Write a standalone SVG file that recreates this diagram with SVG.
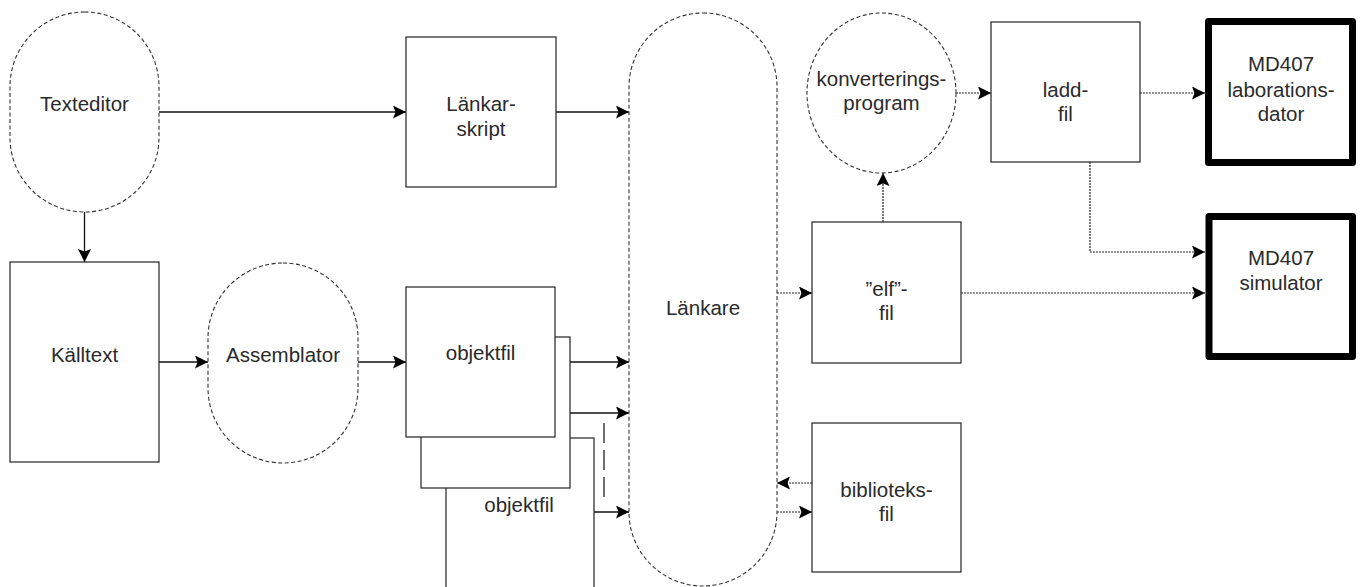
<svg xmlns="http://www.w3.org/2000/svg" width="1366" height="587" viewBox="0 0 1366 587">
<defs>
<style>
.bx{fill:#fff;stroke:#222;stroke-width:1.2}
.dsh{fill:#fff;stroke:#333;stroke-width:1.1;stroke-dasharray:4,2.5}
.thk{fill:#fff;stroke:#000;stroke-width:7;stroke-linejoin:round}
.t{font-family:"Liberation Sans",Arial,sans-serif;font-size:20.5px;fill:#2a2a2a;text-anchor:middle}
.sol{fill:none;stroke:#111;stroke-width:1.3}
.dot{fill:none;stroke:#222;stroke-width:1.2;stroke-dasharray:2,1}
.ldash{fill:none;stroke:#222;stroke-width:1.3;stroke-dasharray:20,7}
</style>
<marker id="ah" markerUnits="userSpaceOnUse" markerWidth="14" markerHeight="13" refX="13" refY="6.5" orient="auto">
<path d="M0,0 L13,6.5 L0,13 L2.5,6.5 z" fill="#000"/>
</marker>
</defs>
<rect width="1366" height="587" fill="#fff"/>

<g id="connectors">
<path class="sol" d="M159,112 H406" marker-end="url(#ah)"/>
<path class="sol" d="M84.5,212 V262" marker-end="url(#ah)"/>
<path class="sol" d="M159,362 H208" marker-end="url(#ah)"/>
<path class="sol" d="M358,362 H406" marker-end="url(#ah)"/>
<path class="sol" d="M556,112 H629" marker-end="url(#ah)"/>
<path class="sol" d="M555,362 H629" marker-end="url(#ah)"/>
<path class="sol" d="M570,413 H629" marker-end="url(#ah)"/>
<path class="sol" d="M594,512 H629" marker-end="url(#ah)"/>
<path class="ldash" d="M604,423 V498"/>
<path class="dot" d="M777,293 H812" marker-end="url(#ah)"/>
<path class="dot" d="M883,222 V173" marker-end="url(#ah)"/>
<path class="dot" d="M956,93 H991" marker-end="url(#ah)"/>
<path class="dot" d="M1140,93 H1205" marker-end="url(#ah)"/>
<path class="dot" d="M1090,162 V252 H1205" marker-end="url(#ah)"/>
<path class="dot" d="M961,293 H1205" marker-end="url(#ah)"/>
<path class="dot" d="M812,483 H777" marker-end="url(#ah)"/>
<path class="dot" d="M777,512 H812" marker-end="url(#ah)"/>
</g>

<g id="texteditor">
<rect class="dsh" x="10" y="12" width="149" height="200" rx="74.5" ry="74.5"/>
<text class="t" x="84.5" y="111">Texteditor</text>
</g>

<g id="kalltext">
<rect class="bx" x="10" y="262" width="149" height="200"/>
<text class="t" x="84.5" y="362">Källtext</text>
</g>

<g id="assemblator">
<rect class="dsh" x="208" y="263" width="150" height="200" rx="75" ry="75"/>
<text class="t" x="283" y="362">Assemblator</text>
</g>

<g id="lankarskript">
<rect class="bx" x="406" y="37" width="150" height="150"/>
<text class="t" x="481" y="111">Länkar-</text>
<text class="t" x="481" y="136">skript</text>
</g>

<g id="objektfil3">
<rect class="bx" x="446" y="438" width="148" height="165"/>
<text class="t" x="519" y="512">objektfil</text>
</g>

<g id="objektfil2">
<rect class="bx" x="421" y="337" width="149" height="151"/>
</g>

<g id="objektfil1">
<rect class="bx" x="406" y="287" width="149" height="150"/>
<text class="t" x="480.5" y="360">objektfil</text>
</g>

<g id="lankare">
<rect class="dsh" x="629" y="13" width="148" height="573" rx="74" ry="74"/>
<text class="t" x="703" y="315">Länkare</text>
</g>

<g id="konverteringsprogram">
<ellipse class="dsh" cx="881.5" cy="93" rx="74.5" ry="80"/>
<text class="t" x="881.5" y="86">konverterings-</text>
<text class="t" x="881.5" y="110">program</text>
</g>

<g id="elffil">
<rect class="bx" x="812" y="222" width="149" height="141"/>
<text class="t" x="886.5" y="296">”elf”-</text>
<text class="t" x="886.5" y="320">fil</text>
</g>

<g id="biblioteksfil">
<rect class="bx" x="812" y="423" width="149" height="149"/>
<text class="t" x="886.5" y="497">biblioteks-</text>
<text class="t" x="886.5" y="521">fil</text>
</g>

<g id="laddfil">
<rect class="bx" x="991" y="22" width="149" height="140"/>
<text class="t" x="1065.5" y="97">ladd-</text>
<text class="t" x="1065.5" y="121">fil</text>
</g>

<g id="md407lab">
<rect class="thk" x="1208.5" y="21.5" width="144" height="141"/>
<text class="t" x="1281" y="71">MD407</text>
<text class="t" x="1281" y="97">laborations-</text>
<text class="t" x="1281" y="121">dator</text>
</g>

<g id="md407sim">
<rect class="thk" x="1209" y="216.5" width="143.5" height="140"/>
<text class="t" x="1281" y="265">MD407</text>
<text class="t" x="1281" y="290">simulator</text>
</g>
</svg>
